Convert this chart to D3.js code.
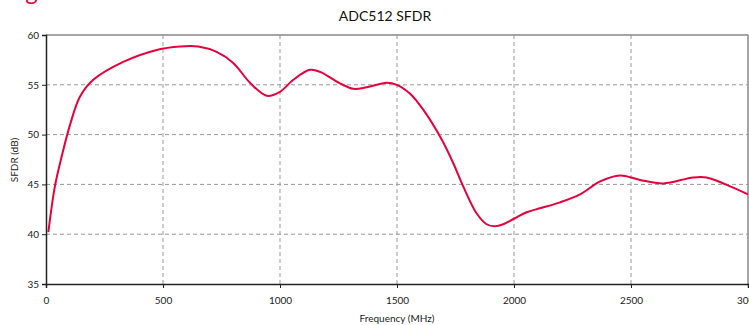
<!DOCTYPE html>
<html><head><meta charset="utf-8">
<script src="https://cdn.jsdelivr.net/npm/d3@7"></script>
<style>
html,body{margin:0;padding:0;background:#fff;}
svg{display:block;font-family:"Lato","DejaVu Sans",sans-serif;}
</style></head>
<body><svg id="c" width="749" height="325"></svg>
<script>
const chartTitle = "ADC512 SFDR";
const captionText = "Figure 9. ADC512 SFDR";
const xLabel = "Frequency (MHz)";
const yLabel = "SFDR (dB)";
const xTicks = [0, 500, 1000, 1500, 2000, 2500, 3000];
const yTicks = [35, 40, 45, 50, 55, 60];
const freq = [10, 38, 67, 103, 145, 202, 330, 473, 573, 651, 729, 800, 872, 943, 1000, 1057, 1128, 1171, 1256, 1313, 1370, 1456, 1499, 1556, 1612, 1691, 1741, 1783, 1840, 1883, 1919, 1954, 2004, 2054, 2111, 2197, 2282, 2368, 2453, 2538, 2638, 2766, 2823, 2909, 3000];
const sfdr = [40.2, 44.8, 47.8, 51.0, 53.8, 55.5, 57.3, 58.5, 58.85, 58.85, 58.3, 57.2, 55.2, 53.9, 54.3, 55.5, 56.5, 56.3, 55.15, 54.6, 54.75, 55.2, 55.0, 54.1, 52.5, 49.5, 47.1, 44.8, 42.1, 41.0, 40.8, 41.0, 41.6, 42.2, 42.6, 43.2, 44.0, 45.3, 45.9, 45.45, 45.1, 45.7, 45.7, 44.95, 44.0];

const svg = d3.select("#c");
const L = 46, R = 748, T = 35, B = 284;
const x = d3.scaleLinear().domain([0, 3000]).range([L, R]);
const y = d3.scaleLinear().domain([35, 60]).range([B, T]);

// caption (cropped at top, only its lowest part shows)
svg.append("text").attr("x", 6).attr("y", -0.5).attr("fill", "#e8003c")
  .attr("font-size", 24).text(captionText);

// title
svg.append("text").attr("x", 385).attr("y", 21).attr("text-anchor", "middle")
  .attr("font-size", 14).attr("fill", "#111").text(chartTitle);

// grid
const g = svg.append("g");
g.selectAll(".vg").data(xTicks.filter(d => d > 0 && d < 3000)).join("line")
  .attr("x1", d => x(d)).attr("x2", d => x(d)).attr("y1", T).attr("y2", B)
  .attr("stroke", "#999").attr("stroke-dasharray", "4,3").attr("stroke-width", 1);
g.selectAll(".hg").data(yTicks.filter(d => d > 35 && d < 60)).join("line")
  .attr("y1", d => y(d)).attr("y2", d => y(d)).attr("x1", L).attr("x2", R)
  .attr("stroke", "#999").attr("stroke-dasharray", "4,3").attr("stroke-width", 1);

// top & right borders
svg.append("line").attr("x1", L).attr("x2", R).attr("y1", T).attr("y2", T).attr("stroke", "#888").attr("stroke-width", 1.5);
svg.append("line").attr("x1", R).attr("x2", R).attr("y1", T).attr("y2", B).attr("stroke", "#888").attr("stroke-width", 1.5);

// axes
const xa = svg.append("g").attr("transform", `translate(0,${B})`)
  .call(d3.axisBottom(x).tickValues(xTicks).tickSize(4).tickFormat(d3.format("d")));
const ya = svg.append("g").attr("transform", `translate(${L},0)`)
  .call(d3.axisLeft(y).tickValues(yTicks).tickSize(4).tickFormat(d3.format("d")));
[xa, ya].forEach(a => {
  a.select(".domain").attr("stroke", "#222").attr("stroke-width", 1.5);
  a.selectAll(".tick line").attr("stroke", "#222");
  a.selectAll("text").attr("font-size", 10).attr("fill", "#222")
    .attr("font-family", "Lato, 'DejaVu Sans', sans-serif");
});
xa.selectAll("text").attr("dy", "1.25em");

// line
const line = d3.line().x((d, i) => x(freq[i])).y(d => y(d)).curve(d3.curveCatmullRom.alpha(0.5));
svg.append("path").datum(sfdr).attr("d", line).attr("fill", "none")
  .attr("stroke", "#e8003c").attr("stroke-width", 2).attr("stroke-linejoin", "round");

// axis labels
svg.append("text").attr("x", 397).attr("y", 322).attr("text-anchor", "middle")
  .attr("font-size", 10).attr("fill", "#222").text(xLabel);
svg.append("text").attr("transform", "translate(18,160) rotate(-90)").attr("text-anchor", "middle")
  .attr("font-size", 10).attr("fill", "#222").text(yLabel);
</script></body></html>
